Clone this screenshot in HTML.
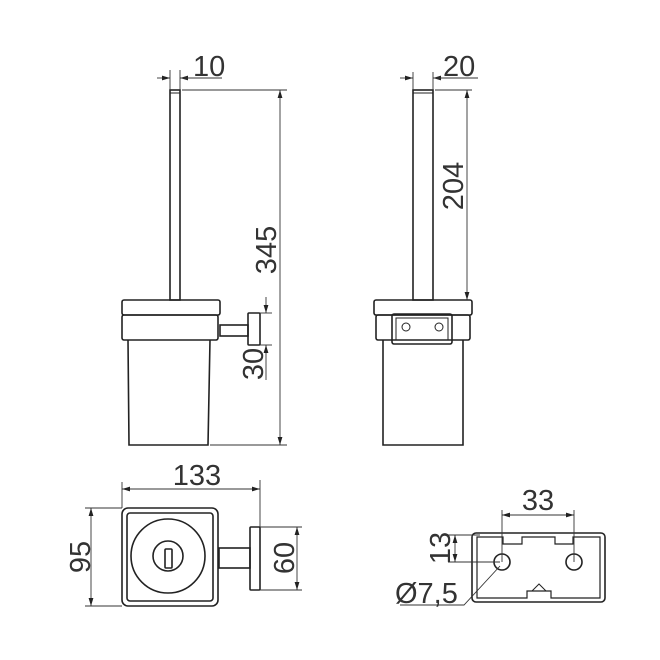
<!DOCTYPE html>
<html><head><meta charset="utf-8"><style>
html,body{margin:0;padding:0;background:#fff}
svg{display:block}
text{font-family:"Liberation Sans",sans-serif;font-size:29px;fill:#333}
</style></head><body>
<svg width="660" height="660" viewBox="0 0 660 660" xmlns="http://www.w3.org/2000/svg">
<defs>
<marker id="a" viewBox="0 0 10 6" refX="10" refY="3" markerWidth="8" markerHeight="5" orient="auto-start-reverse" markerUnits="userSpaceOnUse"><path d="M0,0L10,3L0,6z" fill="#222"/></marker>
</defs>
<g fill="none" stroke="#222" stroke-width="1.6">
<rect x="170" y="90" width="10" height="210"/>
<line x1="170" y1="93" x2="180" y2="93" stroke-width="1"/>
<rect x="122" y="300" width="98" height="15" rx="2"/>
<rect x="122" y="315" width="96" height="25" rx="2"/>
<path d="M128,340 L129,445 L208,445 L210,340"/>
<rect x="220" y="325" width="28" height="11"/>
<rect x="248" y="313" width="12" height="32" rx="1"/>
</g>
<g fill="none" stroke="#333" stroke-width="0.9">
<line x1="170" y1="70" x2="170" y2="90"/><line x1="180" y1="70" x2="180" y2="90"/>
<line x1="157" y1="78" x2="170" y2="78" marker-end="url(#a)"/>
<line x1="193" y1="78" x2="180" y2="78" marker-end="url(#a)"/>
<line x1="180" y1="78" x2="222" y2="78"/>
<line x1="182" y1="90" x2="287" y2="90"/><line x1="210" y1="445" x2="287" y2="445"/>
<line x1="280" y1="90" x2="280" y2="445" marker-start="url(#a)" marker-end="url(#a)"/>
<line x1="260" y1="313" x2="272" y2="313"/><line x1="260" y1="345" x2="272" y2="345"/>
<line x1="266" y1="297" x2="266" y2="313" marker-end="url(#a)"/>
<line x1="266" y1="380" x2="266" y2="345" marker-end="url(#a)"/>
</g>
<text x="193" y="76">10</text>
<text transform="translate(276,250) rotate(-90)" text-anchor="middle">345</text>
<text transform="translate(263,364) rotate(-90)" text-anchor="middle">30</text>

<g fill="none" stroke="#222" stroke-width="1.6">
<rect x="413" y="90" width="20" height="210"/>
<line x1="413" y1="93" x2="433" y2="93" stroke-width="1"/>
<rect x="374" y="300" width="98" height="15" rx="2"/>
<rect x="376" y="315" width="94" height="25" rx="2"/>
<path d="M383,340 L383,445 L463,445 L463,340"/>
<rect x="392" y="314" width="60" height="30" rx="2"/>
<rect x="396" y="318" width="52" height="22" stroke-width="1"/>
<circle cx="406" cy="327" r="4" stroke-width="1"/>
<circle cx="439" cy="327" r="4" stroke-width="1"/>
</g>
<g fill="none" stroke="#333" stroke-width="0.9">
<line x1="413" y1="72" x2="413" y2="90"/><line x1="433" y1="72" x2="433" y2="90"/>
<line x1="400" y1="78" x2="413" y2="78" marker-end="url(#a)"/>
<line x1="446" y1="78" x2="433" y2="78" marker-end="url(#a)"/>
<line x1="433" y1="78" x2="478" y2="78"/>
<line x1="435" y1="90" x2="472" y2="90"/>
<line x1="467" y1="90" x2="467" y2="300" marker-start="url(#a)" marker-end="url(#a)"/>
</g>
<text x="443" y="76">20</text>
<text transform="translate(463,186) rotate(-90)" text-anchor="middle">204</text>

<g fill="none" stroke="#222" stroke-width="1.6">
<rect x="122" y="508" width="96" height="98" rx="6"/>
<rect x="127" y="513" width="86" height="88" rx="3"/>
<circle cx="168" cy="556" r="37"/>
<circle cx="168" cy="556" r="15"/>
<rect x="165" y="549" width="7" height="19" rx="1"/>
<rect x="219" y="548" width="31" height="20"/>
<rect x="250" y="527" width="10" height="63" rx="1"/>
</g>
<g fill="none" stroke="#333" stroke-width="0.9">
<line x1="122" y1="482" x2="122" y2="508"/><line x1="260" y1="480" x2="260" y2="527"/>
<line x1="122" y1="489" x2="260" y2="489" marker-start="url(#a)" marker-end="url(#a)"/>
<line x1="85" y1="508" x2="122" y2="508"/><line x1="85" y1="606" x2="122" y2="606"/>
<line x1="91" y1="508" x2="91" y2="606" marker-start="url(#a)" marker-end="url(#a)"/>
<line x1="260" y1="527" x2="302" y2="527"/><line x1="260" y1="590" x2="302" y2="590"/>
<line x1="297" y1="527" x2="297" y2="590" marker-start="url(#a)" marker-end="url(#a)"/>
</g>
<text x="197" y="485" text-anchor="middle">133</text>
<text transform="translate(90,557) rotate(-90)" text-anchor="middle">95</text>
<text transform="translate(294,558) rotate(-90)" text-anchor="middle">60</text>

<g fill="none" stroke="#222" stroke-width="1.6">
<rect x="472" y="533" width="133" height="69" rx="4"/>
<path d="M477,537 L503,537 L503,544 L522,544 L522,537 L555,537 L555,544 L573,544 L573,537 L600,537 L600,598 L551,598 L551,591 L527,591 L527,598 L477,598 Z" stroke-width="1.2"/>
<path d="M532,591 L539,584 L546,591" stroke-width="1"/>
<circle cx="502" cy="562" r="8"/>
<circle cx="574" cy="562" r="8"/>
</g>
<g fill="none" stroke="#333" stroke-width="0.9">
<line x1="502" y1="510" x2="502" y2="562"/><line x1="574" y1="510" x2="574" y2="562"/>
<line x1="502" y1="515" x2="574" y2="515" marker-start="url(#a)" marker-end="url(#a)"/>
<line x1="448" y1="535" x2="480" y2="535"/><line x1="448" y1="562" x2="500" y2="562"/>
<line x1="455" y1="535" x2="455" y2="562" marker-start="url(#a)" marker-end="url(#a)"/>
<polyline points="400,605 464,605 500,566"/>
</g>
<text x="538" y="510" text-anchor="middle">33</text>
<text transform="translate(450,548) rotate(-90)" text-anchor="middle">13</text>
<text x="395" y="603">Ø7,5</text>
</svg>
</body></html>
